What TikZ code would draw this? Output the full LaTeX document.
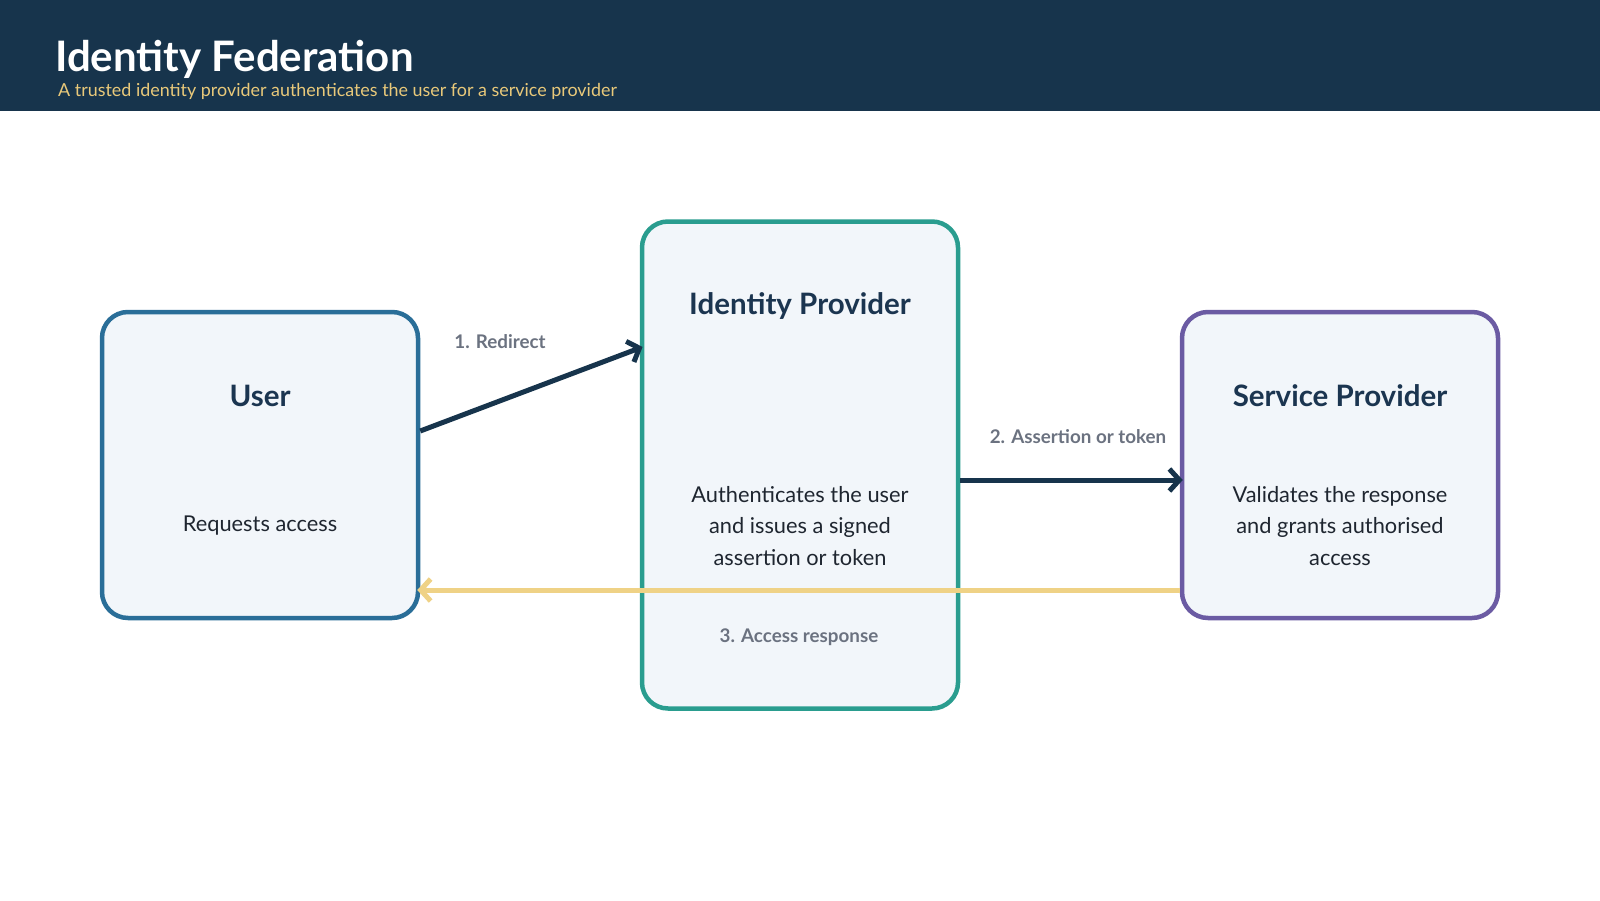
\documentclass[tikz,border=0pt]{standalone}
\usepackage{fontspec}
\setmainfont{Lato}
\usetikzlibrary{arrows.meta,calc}
\definecolor{navy}{HTML}{17344C}
\definecolor{gold}{HTML}{E9C97A}
\definecolor{boxfill}{HTML}{F2F6FA}
\definecolor{userc}{HTML}{2A6E98}
\definecolor{idpc}{HTML}{2A9D8F}
\definecolor{spc}{HTML}{6B5BA3}
\definecolor{titlec}{HTML}{1B3550}
\definecolor{bodyc}{HTML}{1F2630}
\definecolor{labelc}{HTML}{6B7280}
\definecolor{yell}{HTML}{EFD286}
\tikzset{
  card/.style={draw=#1, line width=4.5pt, fill=boxfill, rounded corners=26pt, minimum width=316pt, inner sep=0pt},
  cardtitle/.style={font=\fontsize{29.5}{34}\selectfont\bfseries, text=titlec, inner sep=0pt},
  cardbody/.style={font=\fontsize{21.8}{31.5}\selectfont, text=bodyc, align=center, inner sep=0pt},
  flowlabel/.style={font=\fontsize{18.8}{22}\selectfont\bfseries, text=labelc, inner sep=0pt},
  flow/.style={line width=5pt, draw=navy, shorten >=-3pt, -{Straight Barb[length=10pt,width=22pt,line width=5pt]}},
  back/.style={line width=5pt, draw=yell, shorten >=-3pt, -{Straight Barb[length=10pt,width=22pt,line width=5pt]}}
}
\begin{document}
\begin{tikzpicture}[x=1pt,y=-1pt]
\useasboundingbox (0,0) rectangle (1600,900);
\fill[white] (0,0) rectangle (1600,900);
\fill[navy] (0,0) rectangle (1600,111);
\node[anchor=base west, inner sep=0pt, text=white, font=\fontsize{42}{48}\selectfont\bfseries] (title) at (55,71) {Identity Federation};
\node[anchor=base west, inner sep=0pt, text=gold, font=\fontsize{17.9}{22}\selectfont] (subtitle) at (58,96) {A trusted identity provider authenticates the user for a service provider};

\node[card=userc, minimum height=306pt] (user) at (260,465) {};
\node[card=idpc, minimum height=487pt] (idp) at (800,465) {};
\node[card=spc, minimum height=306pt] (sp) at (1340,465) {};

\node[cardtitle] (usert) at (260,396) {User};
\node[cardbody] (userb) at (260,526) {Requests access};
\node[cardtitle] (idpt) at (800,306) {Identity Provider};
\node[cardbody] (idpb) at (800,526) {Authenticates the user\\and issues a signed\\assertion or token};
\node[cardtitle] (spt) at (1340,396) {Service Provider};
\node[cardbody] (spb) at (1340,526) {Validates the response\\and grants authorised\\access};

\draw[flow] ([yshift=34pt]user.east) -- ([yshift=117pt]idp.west);
\draw[flow] ([yshift=-15pt]idp.east) -- ([yshift=-15pt]sp.west);
\draw[back] ([yshift=-125pt]sp.west) -- ([yshift=-125pt]user.east);

\node[flowlabel] (l1) at (500,342) {1. Redirect};
\node[flowlabel] (l2) at (1078,437) {2. Assertion or token};
\node[flowlabel] (l3) at (799,637) {3. Access response};
\end{tikzpicture}
\end{document}
